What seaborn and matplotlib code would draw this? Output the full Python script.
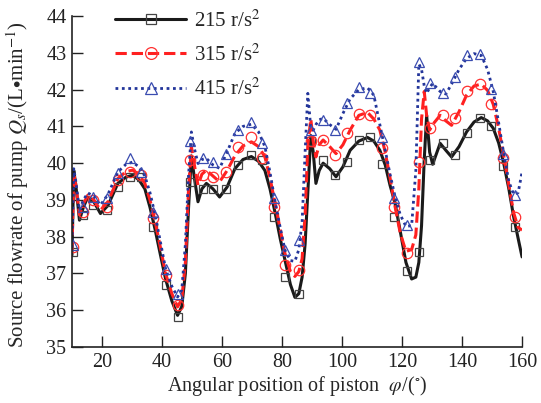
import matplotlib
matplotlib.use("Agg")
import matplotlib.pyplot as plt
from matplotlib.lines import Line2D
import seaborn as sns

# angular position of piston (deg), line samples
angle = [10.0, 10.6, 11.3, 12.5, 13.8, 15.3, 17.3, 19.5, 22.0, 25.3, 28.0, 30.2, 32.3, 34.3,
         36.0, 37.7, 39.5, 41.2, 43.3, 45.2, 46.6, 47.8, 48.8, 49.8, 50.8, 52.0, 53.3, 54.8,
         57.0, 59.2, 61.7, 64.3, 67.0, 69.8, 72.2, 74.3, 76.0, 77.7, 79.4, 81.0, 82.8, 84.3,
         85.6, 86.7, 87.7, 88.6, 89.6, 90.4, 91.3, 92.4, 93.7, 95.9, 98.0, 100.3, 102.7, 105.6,
         108.5, 110.6, 112.6, 114.4, 116.0, 117.7, 119.4, 121.3, 123.2, 124.6, 125.6, 126.5,
         127.4, 128.2, 129.2, 130.2, 132.7, 134.6, 136.5, 139.0, 141.5, 144.0, 146.4, 148.5,
         150.4, 152.2, 153.9, 155.6, 157.2, 158.7, 160.0]

q215 = [37.5, 39.8, 39.4, 38.45, 38.8, 39.08, 38.95, 38.63, 38.85, 39.45, 39.62, 39.67, 39.55, 39.3,
        38.8, 38.2, 37.5, 36.85, 36.25, 35.86, 36.1, 37.0, 38.7, 40.2, 39.6, 38.95, 39.3, 39.45,
        39.3, 39.08, 39.35, 39.85, 40.1, 40.18, 40.05, 39.8, 39.3, 38.65, 37.95, 37.36, 36.7, 36.35,
        36.45, 36.9, 37.8, 39.2, 40.75, 40.3, 39.45, 39.8, 40.0, 39.85, 39.63, 39.9, 40.35, 40.6,
        40.7, 40.6, 40.35, 39.95, 39.4, 38.9, 38.15, 37.3, 36.85, 36.9, 37.3, 38.3,
        40.1, 41.3, 40.3, 39.97, 40.54, 40.35, 40.17, 40.45, 40.85, 41.12, 41.24, 41.15,
        40.95, 40.55, 39.99, 39.3, 38.54, 37.95, 37.45]

q315 = [37.6, 39.72, 39.4, 38.6, 38.9, 39.13, 39.0, 38.72, 38.95, 39.58, 39.77, 39.81, 39.7, 39.45,
        39.0, 38.42, 37.7, 37.0, 36.45, 36.09, 36.3, 37.3, 39.2, 40.45, 39.95, 39.4, 39.7, 39.81,
        39.65, 39.49, 39.8, 40.2, 40.47, 40.58, 40.45, 40.17, 39.6, 38.9, 38.2, 37.54, 37.05, 36.92,
        37.05, 37.4, 38.6, 40.5, 41.2, 40.6, 40.17, 40.5, 40.63, 40.45, 40.26, 40.5, 40.9, 41.3,
        41.38, 41.2, 40.9, 40.3, 39.6, 38.81, 38.1, 37.6, 37.65, 38.05, 39.3, 41.2,
        41.95, 41.3, 40.9, 41.05, 41.3, 41.15, 41.03, 41.4, 41.85, 42.1, 42.15, 41.98,
        41.6, 40.95, 40.2, 39.4, 38.65, 38.25, 38.18]

q415 = [37.7, 39.85, 39.5, 38.72, 39.0, 39.19, 39.1, 38.86, 39.15, 39.76, 39.97, 40.03, 39.9, 39.65,
        39.2, 38.6, 37.85, 37.13, 36.65, 36.36, 36.55, 37.8, 39.6, 40.85, 40.4, 39.99, 40.1, 40.13,
        39.95, 39.86, 40.3, 40.81, 41.0, 41.06, 40.85, 40.45, 39.75, 38.95, 38.25, 37.63, 37.35, 37.33,
        37.65, 38.4, 40.3, 41.9, 40.95, 40.9, 41.05, 41.18, 41.22, 41.05, 40.92, 41.35, 41.75, 42.0,
        42.05, 41.85, 41.05, 40.35, 39.7, 39.08, 38.6, 38.28, 38.3, 39.8, 42.7, 42.55,
        42.1, 41.9, 42.05, 42.17, 41.95, 41.88, 42.15, 42.55, 42.85, 42.98, 42.93, 42.55,
        41.95, 41.1, 40.26, 39.5, 39.15, 39.2, 39.76]

# marker positions (deg) and marker values
mk_angle = [10.2, 13.8, 17.0, 21.7, 25.5, 29.5, 33.0, 37.0, 41.5, 45.3, 49.2, 53.6, 57.0, 61.4,
            65.4, 69.6, 73.4, 77.2, 81.0, 85.6, 89.5, 93.7, 97.7, 101.6, 105.8, 109.4, 113.3,
            117.3, 121.6, 125.6, 129.2, 133.7, 137.8, 141.8, 145.9, 149.7, 153.7, 157.6]

mk215 = [37.58, 38.59, 38.86, 38.72, 39.35, 39.62, 39.62, 38.26, 36.68, 35.81, 39.48, 39.31, 39.31,
         39.31, 39.95, 40.22, 40.08, 38.54, 36.9, 36.45, 40.6, 40.08, 39.67, 40.03, 40.63, 40.72,
         39.99, 38.54, 37.07, 37.59, 40.08, 40.54, 40.22, 40.83, 41.24, 41.0, 39.93, 38.27]

mk315 = [37.72, 38.67, 39.0, 38.81, 39.54, 39.76, 39.68, 38.5, 36.95, 36.13, 40.08, 39.67, 39.63,
         39.76, 40.44, 40.72, 40.13, 38.81, 37.22, 37.09, 40.6, 40.63, 40.22, 40.81, 41.35, 41.3,
         40.4, 38.81, 37.56, 40.03, 40.97, 41.3, 41.22, 41.96, 42.14, 41.62, 40.13, 38.54]

mk415 = [37.77, 38.81, 39.08, 39.04, 39.72, 40.13, 39.76, 38.67, 37.13, 36.45, 40.6, 40.13, 40.03,
         40.26, 40.9, 41.12, 40.54, 39.06, 37.63, 37.9, 40.9, 41.17, 40.9, 41.63, 42.08, 41.9,
         40.72, 39.04, 38.31, 42.74, 42.17, 41.9, 42.35, 42.94, 42.98, 42.03, 40.26, 39.13]

labels = ["215 r/s$^2$", "315 r/s$^2$", "415 r/s$^2$"]

sns.set_theme(style="ticks")
plt.rcParams['font.family'] = ['Liberation Serif', 'DejaVu Serif']
plt.rcParams['mathtext.fontset'] = 'stix'

fig = plt.figure(figsize=(5.41, 4.03), dpi=100)
ax = fig.add_axes([0.133, 0.139, 0.832, 0.821])

series = [
    (q215, mk215, dict(color='#1a1a1a', lw=2.2, ls='-'), dict(marker='s', ms=6, mec='#444444')),
    (q315, mk315, dict(color='#ff2020', lw=2.2, ls='--'), dict(marker='o', ms=7.5, mec='#ff3030')),
    (q415, mk415, dict(color='#23359a', lw=2.0, ls=(0, (1, 1.3))), dict(marker='^', ms=7.5, mec='#3a4cb0')),
]

handles = []
for (line, mk, lkw, mkw), lab in zip(series, labels):
    sns.lineplot(x=angle, y=line, ax=ax, color=lkw['color'], linewidth=lkw['lw'],
                 linestyle=lkw['ls'], sort=False, estimator=None)
    ax.plot(mk_angle, mk, linestyle='none', marker=mkw['marker'], markersize=mkw['ms'],
            markerfacecolor='none', markeredgecolor=mkw['mec'], markeredgewidth=0.9)
    handles.append(Line2D([], [], color=lkw['color'], linewidth=lkw['lw'], linestyle=lkw['ls'],
                          marker=mkw['marker'], markersize=mkw['ms'] + 1, markerfacecolor='none',
                          markeredgecolor=mkw['mec'], markeredgewidth=0.9))

ax.set_xlim(10, 160)
ax.set_ylim(35, 44)
ax.set_xticks(range(20, 161, 20))
ax.set_yticks(range(35, 45))
ax.tick_params(direction='in', length=8, width=1, labelsize=14.5, colors='#222222', pad=4)
for s in ['left', 'bottom']:
    ax.spines[s].set_linewidth(1.2)
    ax.spines[s].set_color('#222222')
sns.despine(ax=ax)

ax.set_xlabel(r"Angular position of piston  $\varphi$/($^{\circ}$)", fontsize=14.5, labelpad=2)
ax.set_ylabel(r"Source flowrate of pump $Q_s$/(L$\bullet$min$^{-1}$)", fontsize=15)
ax.yaxis.set_label_coords(-0.092, 0.49)

ax.legend(handles, labels, loc='upper left', bbox_to_anchor=(0.055, 1.075), frameon=False,
          fontsize=15, handlelength=3.4, handletextpad=0.35, labelspacing=0.62)

plt.savefig('out.png', dpi=100)
